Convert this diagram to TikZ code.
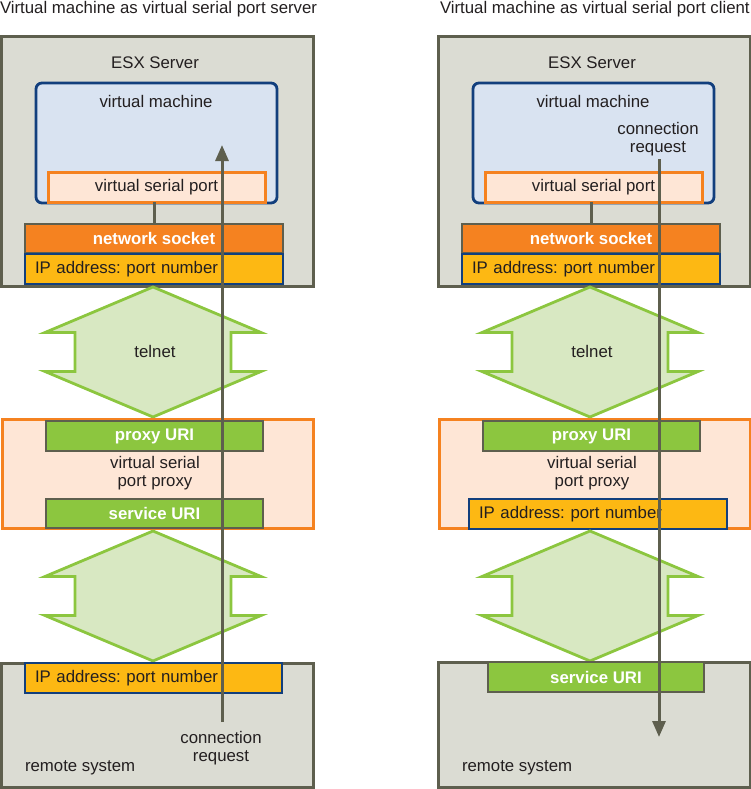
\documentclass[tikz,border=0pt]{standalone}
\usepackage{fontspec}
\setmainfont{Liberation Sans}
\usetikzlibrary{arrows.meta}
\frenchspacing
\definecolor{srvgray}{HTML}{DBDCD3}
\definecolor{edgegray}{HTML}{5E5F4E}
\definecolor{vmblue}{HTML}{D9E3F1}
\definecolor{vmedge}{HTML}{123F7D}
\definecolor{portpeach}{HTML}{FEE6D6}
\definecolor{sockorange}{HTML}{F58220}
\definecolor{ipyellow}{HTML}{FDB813}
\definecolor{urigreen}{HTML}{8CC63F}
\definecolor{telgreen}{HTML}{D8E8C2}
\definecolor{inktext}{HTML}{231F20}
\tikzset{telarrow/.pic={
  \draw[draw=urigreen,fill=telgreen,line width=2.8pt,line join=miter]
    (0,-65) -- (-108,-19.5) -- (-78,-19.5) -- (-78,19.5) -- (-108,19.5) -- (0,65)
    -- (108,19.5) -- (78,19.5) -- (78,-19.5) -- (108,-19.5) -- cycle;}}

\begin{document}
\begin{tikzpicture}[x=1pt,y=-1pt,font=\fontsize{16.8}{18}\selectfont,text=inktext,
  every node/.style={inner sep=0pt,outer sep=0pt},
  box/.style={rectangle,anchor=north west},
  server/.style={box,draw=edgegray,fill=srvgray,line width=3pt},
  vmbox/.style={box,draw=vmedge,fill=vmblue,line width=2.8pt,rounded corners=6pt},
  portbox/.style={box,draw=sockorange,fill=portpeach,line width=3pt},
  sockbox/.style={box,draw=edgegray,fill=sockorange,line width=2.8pt,text=white,
    font=\fontsize{16.8}{18}\selectfont\bfseries},
  uribox/.style={sockbox,fill=urigreen},
  ipbox/.style={box,draw=vmedge,fill=ipyellow,line width=2.2pt,inner xsep=10pt,
    text width=#1,align=left,minimum height=30pt},
  flow/.style={draw=edgegray,line width=3pt,-{Triangle[width=13pt,length=16pt]}},
  link/.style={draw=edgegray,line width=3pt}
]
\useasboundingbox (0,0) rectangle (751,789);
% titles
\node[anchor=west] (titleL) at (0,9) {Virtual machine as virtual serial port server};
\node[anchor=west] (titleR) at (440,9) {Virtual machine as virtual serial port client};

% left: server side
\node[server,minimum width=312pt,minimum height=249pt] (esxL) at (1,37) {};
\node (esxlabL) at (155,63) {ESX Server};
\node[vmbox,minimum width=241pt,minimum height=120pt] (vmL) at (36,83) {};
\node (vmlabL) at (156,101) {virtual machine};
\node[portbox,minimum width=217pt,minimum height=30pt] (vspL) at (48,172) {virtual serial port};
\node[sockbox,minimum width=258pt,minimum height=29pt] (sockL) at (25,224) {network socket};
\node[ipbox=238pt] (ipL) at (25,254) {IP address: port number};
\draw[link] (sockL.north) -- (sockL.north |- vspL.south);
\pic at (153,352) {telarrow};
\node (telL) at (155,351) {telnet};
\node[portbox,minimum width=311pt,minimum height=109pt] (proxyL) at (2,419) {};
\node[uribox,minimum width=217pt,minimum height=30pt] (puriL) at (46,421) {proxy URI};
\node[align=center] (vspplabL) at (155,473) {virtual serial\\port proxy};
\node[uribox,minimum width=217pt,minimum height=29pt] (suriL) at (46,499) {service URI};
\pic at (153,596) {telarrow};
\node[server,minimum width=312pt,minimum height=124pt] (remL) at (1,663) {};
\node[ipbox=237pt] (ip2L) at (25,663) {IP address: port number};
\node[anchor=west] (remlabL) at (25,768) {remote system};
\node[align=center] (reqlabL) at (221,748) {connection\\request};
\coordinate (reqL) at (222,722);
\coordinate (tipL) at (222,145);
\draw[flow] (reqL) -- (tipL);

% right: client side
\node[server,minimum width=312pt,minimum height=249pt] (esxR) at (438,37) {};
\node (esxlabR) at (592,63) {ESX Server};
\node[vmbox,minimum width=241pt,minimum height=120pt] (vmR) at (473,83) {};
\node (vmlabR) at (593,101) {virtual machine};
\node[align=center] (reqlabR) at (658,139) {connection\\request};
\node[portbox,minimum width=217pt,minimum height=30pt] (vspR) at (485,172) {virtual serial port};
\node[sockbox,minimum width=258pt,minimum height=29pt] (sockR) at (462,224) {network socket};
\node[ipbox=238pt] (ipR) at (462,254) {IP address: port number};
\draw[link] (sockR.north) -- (sockR.north |- vspR.south);
\pic at (590,352) {telarrow};
\node (telR) at (592,351) {telnet};
\node[portbox,minimum width=311pt,minimum height=109pt] (proxyR) at (439,419) {};
\node[uribox,minimum width=217pt,minimum height=30pt] (puriR) at (483,421) {proxy URI};
\node[align=center] (vspplabR) at (592,473) {virtual serial\\port proxy};
\node[ipbox=238pt] (ip2R) at (469,499) {IP address: port number};
\pic at (590,596) {telarrow};
\node[server,minimum width=312pt,minimum height=125pt] (remR) at (438,662) {};
\node[uribox,minimum width=216pt,minimum height=30pt] (suriR) at (488,662) {service URI};
\node[anchor=west] (remlabR) at (462,768) {remote system};
\coordinate (reqR) at (659,159);
\coordinate (tipR) at (659,737);
\draw[flow] (reqR) -- (tipR);
\end{tikzpicture}
\end{document}
